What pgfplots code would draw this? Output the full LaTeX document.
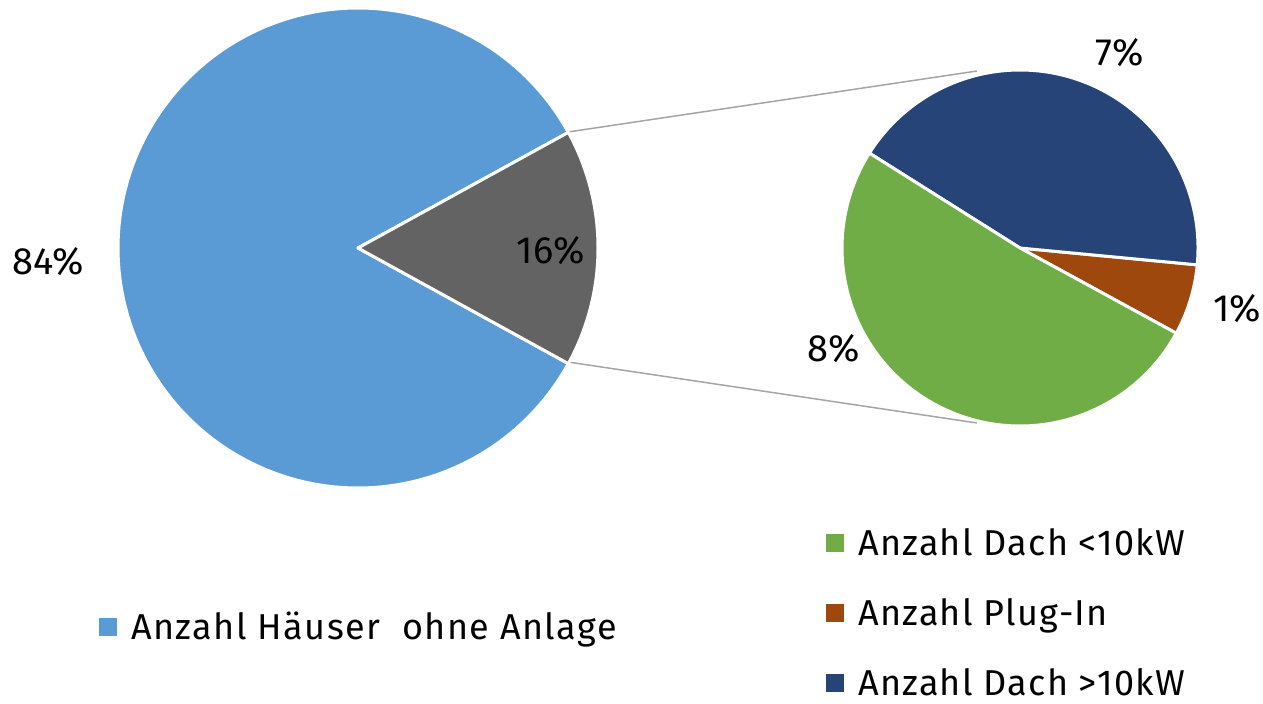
\documentclass[border=0pt]{standalone}
\usepackage{fontspec}
\setmainfont{Fira Sans}
\usepackage{pgfplots}
\pgfplotsset{compat=1.18}
\definecolor{cLB}{HTML}{5B9BD5}
\definecolor{cGr}{HTML}{636363}
\definecolor{cGn}{HTML}{70AD47}
\definecolor{cOr}{HTML}{9E480E}
\definecolor{cDB}{HTML}{264478}
\definecolor{cLn}{HTML}{A5A5A5}
% data (percent of all houses)
\def\vOhne{84}\def\vMit{16}
\def\vKlein{8.16}\def\vPlug{1.03}\def\vGross{6.81}
% angles
\pgfmathsetmacro\gA{-\vMit/100*360/2}
\pgfmathsetmacro\gB{\vMit/100*360/2}
\pgfmathsetmacro\bB{\gB+\vOhne/100*360}
\def\sS{-28.6}
\pgfmathsetmacro\oB{\sS+\vPlug/\vMit*360}
\pgfmathsetmacro\dB{\oB+\vGross/\vMit*360}
\pgfmathsetmacro\nB{\dB+\vKlein/\vMit*360}
\newcommand\pct{\fontsize{19pt}{22pt}\selectfont}
\pgfplotsset{base/.style={width=631.5pt,height=351.5pt,scale only axis,
  xmin=0,xmax=1263,ymin=0,ymax=703,hide axis,clip=false,
  legend cell align=left,
  legend image code/.code={\fill[##1,draw=none] (0pt,-4.5pt) rectangle (9pt,4.5pt); \path (16pt,0pt);},
}}
\begin{document}
\begin{tikzpicture}
\begin{axis}[base,
  legend style={draw=none,fill=none,inner sep=0pt,outer sep=0pt,
    at={(0.0784,0.1081)},anchor=west,
    font=\fontsize{18pt}{21pt}\selectfont\addfontfeature{LetterSpace=4},
    nodes={inner sep=0pt,anchor=west,text height=12.4pt,text depth=0pt}}]
% connector lines
\addplot[cLn, line width=0.75pt, forget plot] coordinates {(568,571) (977,632)};
\addplot[cLn, line width=0.75pt, forget plot] coordinates {(568,341) (977,280)};
% main pie
\addplot[fill=cLB, draw=white, line width=1.5pt, line join=round, domain=\gB:\bB, samples=181, forget plot]
  ({358+240*cos(x)},{455+240*sin(x)}) -- (axis cs:358,455) -- cycle;
\addplot[fill=cGr, draw=white, line width=1.5pt, line join=round, domain=\gA:\gB, samples=61, forget plot]
  ({358+240*cos(x)},{455+240*sin(x)}) -- (axis cs:358,455) -- cycle;
\addlegendimage{fill=cLB}
\addlegendentry{Anzahl Häuser\ \ ohne Anlage}
\node[font=\pct] at (axis cs:48,441) {84\%};
\node[font=\pct] at (axis cs:551,452) {16\%};
\end{axis}
\begin{axis}[base,
  legend style={draw=none,fill=none,inner sep=0pt,outer sep=0pt,
    at={(0.6540,0.1285)},anchor=west,row sep=22.6pt,
    font=\fontsize{18pt}{21pt}\selectfont\addfontfeature{LetterSpace=3.5},
    nodes={inner sep=0pt,anchor=west,text height=12.4pt,text depth=0pt}}]
\addplot[fill=cOr, draw=white, line width=1.5pt, line join=round, domain=\sS:\oB, samples=41, forget plot]
  ({1020+178*cos(x)},{455+178*sin(x)}) -- (axis cs:1020,455) -- cycle;
\addplot[fill=cDB, draw=white, line width=1.5pt, line join=round, domain=\oB:\dB, samples=121, forget plot]
  ({1020+178*cos(x)},{455+178*sin(x)}) -- (axis cs:1020,455) -- cycle;
\addplot[fill=cGn, draw=white, line width=1.5pt, line join=round, domain=\dB:\nB, samples=141, forget plot]
  ({1020+178*cos(x)},{455+178*sin(x)}) -- (axis cs:1020,455) -- cycle;
\addlegendimage{fill=cGn}
\addlegendentry{Anzahl Dach <10kW}
\addlegendimage{fill=cOr}
\addlegendentry{Anzahl Plug-In}
\addlegendimage{fill=cDB}
\addlegendentry{Anzahl Dach >10kW}
\node[font=\pct] at (axis cs:1120,650) {7\%};
\node[font=\pct] at (axis cs:1237,394) {1\%};
\node[font=\pct] at (axis cs:834,354) {8\%};
\end{axis}
\pgfresetboundingbox
\useasboundingbox (0,0) rectangle (631.5pt,351.5pt);
\end{tikzpicture}
\end{document}
